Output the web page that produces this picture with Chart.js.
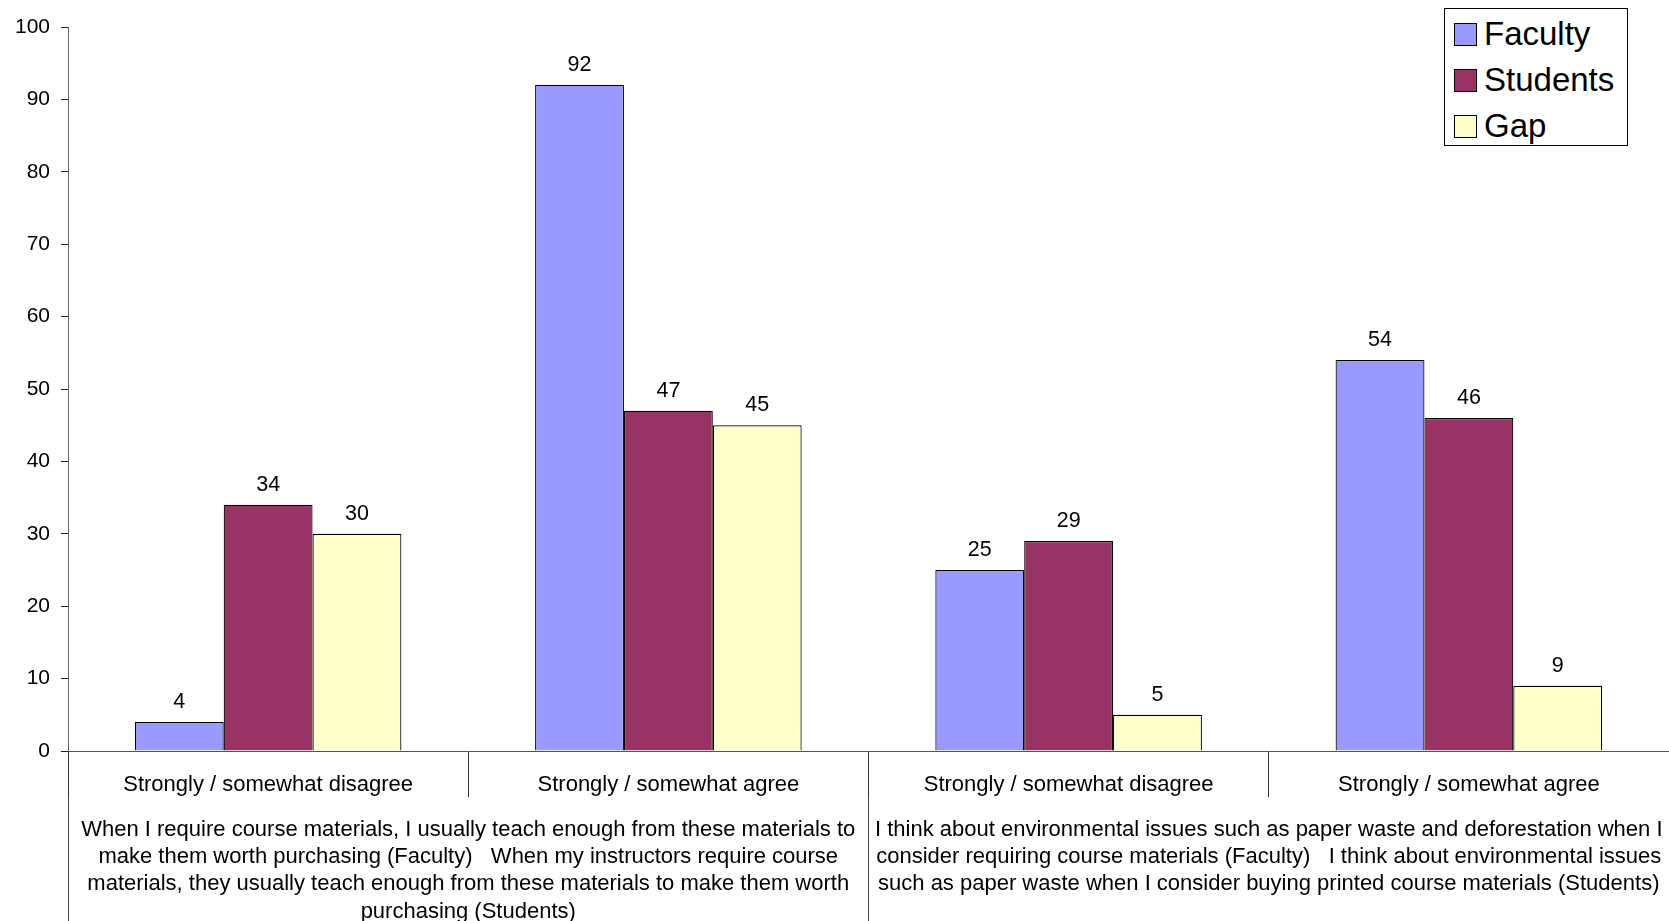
<!DOCTYPE html>
<html>
<head>
<meta charset="utf-8">
<title>Faculty vs Students</title>
<script src="https://cdn.jsdelivr.net/npm/chart.js@4/dist/chart.umd.min.js"></script>
<style>
  html, body { margin: 0; padding: 0; background: #fff; }
  #wrap { position: relative; width: 1669px; height: 921px; overflow: hidden; }
  #legend {
    position: absolute; left: 1444px; top: 8px; width: 184px; height: 138px;
    box-sizing: border-box; border: 1px solid #000; background: #fff;
    font-family: "Liberation Sans", Arial, sans-serif; font-size: 33px; color: #000;
  }
  .item { position: absolute; left: 9px; height: 40px; display: flex; align-items: center; white-space: nowrap; }
  .sw { width: 23px; height: 23px; box-sizing: border-box; border: 1.5px solid #000; margin-right: 7px; }
</style>
</head>
<body>
<div id="wrap">
  <canvas id="chart" width="1669" height="921"></canvas>
  <div id="legend"></div>
</div>
<script>
// Answer categories (inner axis)
const categories = [
  "Strongly / somewhat disagree",
  "Strongly / somewhat agree",
  "Strongly / somewhat disagree",
  "Strongly / somewhat agree"
];

// Survey statements (outer axis), one per pair of categories
const statements = [
  [
    "When I require course materials, I usually teach enough from these materials to",
    "make them worth purchasing (Faculty)   When my instructors require course",
    "materials, they usually teach enough from these materials to make them worth",
    "purchasing (Students)"
  ],
  [
    "I think about environmental issues such as paper waste and deforestation when I",
    "consider requiring course materials (Faculty)   I think about environmental issues",
    "such as paper waste when I consider buying printed course materials (Students)"
  ]
];

// Percentages
const faculty  = [4, 92, 25, 54];
const students = [34, 47, 29, 46];
const gap      = [30, 45, 5, 9];

const seriesNames  = ["Faculty", "Students", "Gap"];
const seriesColors = ["#9999FF", "#993366", "#FFFFCC"];

const FONT = '"Liberation Sans", Arial, sans-serif';

// Writes the value above each bar
const valueLabels = {
  id: 'valueLabels',
  afterDatasetsDraw(chart) {
    const ctx = chart.ctx;
    ctx.save();
    ctx.font = '21.5px ' + FONT;
    ctx.fillStyle = '#000';
    ctx.textAlign = 'center';
    ctx.textBaseline = 'alphabetic';
    chart.data.datasets.forEach((ds, i) => {
      chart.getDatasetMeta(i).data.forEach((bar, j) => {
        ctx.fillText(String(ds.data[j]), bar.x, bar.y - 14);
      });
    });
    ctx.restore();
  }
};

const seriesData = [faculty, students, gap];

const chart = new Chart(document.getElementById('chart'), {
  type: 'bar',
  data: {
    labels: categories,
    datasets: seriesNames.map((name, i) => ({
      label: name,
      data: seriesData[i],
      backgroundColor: seriesColors[i],
      borderColor: '#000',
      borderWidth: 1.2,
      barPercentage: 1,
      categoryPercentage: 0.666
    }))
  },
  options: {
    responsive: false,
    animation: false,
    layout: { padding: { top: 27, left: 0, right: -3, bottom: 0 } },
    plugins: { legend: { display: false }, tooltip: { enabled: false } },
    scales: {
      y: {
        min: 0, max: 100,
        border: { display: true, color: '#666', width: 1 },
        grid: { drawOnChartArea: false, drawTicks: true, tickLength: 7, tickColor: '#222' },
        ticks: { stepSize: 10, padding: 11, color: '#000', font: { family: FONT, size: 21 } },
        afterFit(scale) { scale.width = 68; }
      },
      x: {
        position: 'bottom',
        weight: 0,
        border: { display: true, color: '#555', width: 1 },
        grid: { offset: true, drawOnChartArea: false, drawTicks: true, tickLength: 46, tickColor: '#333' },
        ticks: {
          autoSkip: false, maxRotation: 0, minRotation: 0, padding: -25,
          color: '#000', font: { family: FONT, size: 22, lineHeight: 1.2 }
        },
        afterFit(scale) { scale.height = 46; scale.paddingLeft = 0; scale.paddingRight = 0; }
      },
      x2: {
        type: 'category',
        position: 'bottom',
        weight: 1,
        labels: statements.map((s, i) => 'q' + i),
        offset: true,
        border: { display: false },
        grid: { offset: true, drawOnChartArea: false, drawTicks: true, tickLength: 124, tickColor: '#444' },
        ticks: {
          autoSkip: false, maxRotation: 0, minRotation: 0, padding: -105,
          color: '#000', font: { family: FONT, size: 22, lineHeight: 1.24 },
          callback: (v, i) => statements[i]
        },
        afterFit(scale) { scale.height = 124; scale.paddingLeft = 0; scale.paddingRight = 0; }
      }
    }
  },
  plugins: [valueLabels]
});

// Legend built from the chart's datasets
const legend = document.getElementById('legend');
chart.data.datasets.forEach((ds, i) => {
  const item = document.createElement('div');
  item.className = 'item';
  item.style.top = (5 + i * 46) + 'px';
  const sw = document.createElement('span');
  sw.className = 'sw';
  sw.style.background = ds.backgroundColor;
  const tx = document.createElement('span');
  tx.textContent = ds.label;
  item.appendChild(sw);
  item.appendChild(tx);
  legend.appendChild(item);
});
</script>
</body>
</html>
